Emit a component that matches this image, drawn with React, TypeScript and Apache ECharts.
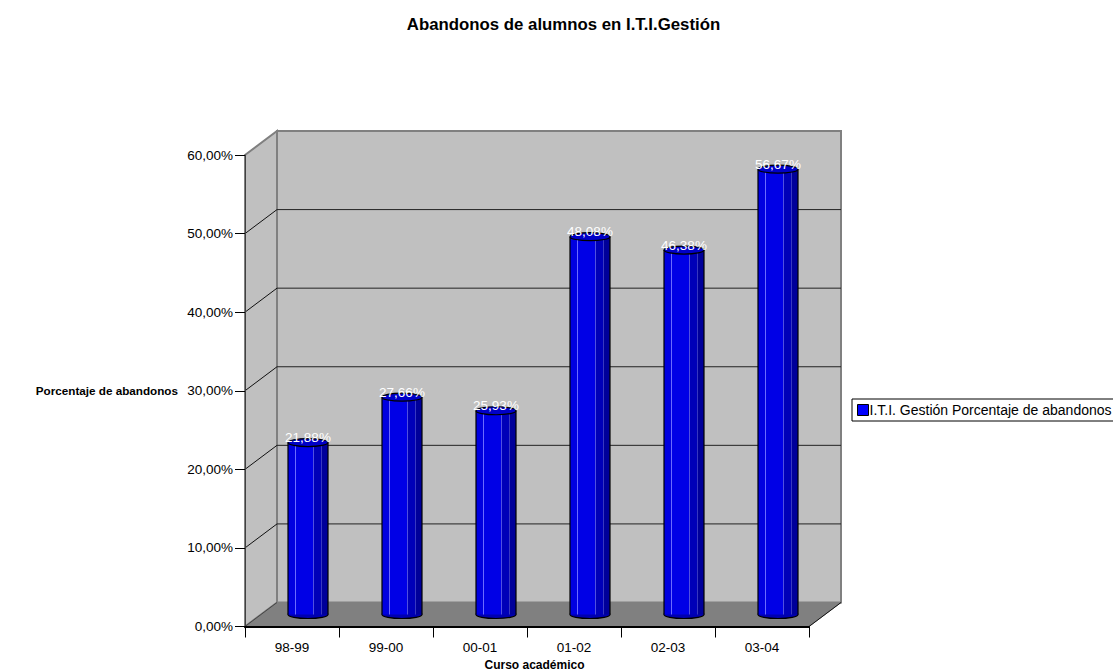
import React, { useEffect, useRef } from "react";
import * as echarts from "echarts";

const courses = ["98-99", "99-00", "00-01", "01-02", "02-03", "03-04"];
const dropoutRates = [21.88, 27.66, 25.93, 48.08, 46.38, 56.67];
const seriesName = "I.T.I. Gestión Porcentaje de abandonos";
const titleText = "Abandonos de alumnos en I.T.I.Gestión";
const yAxisTitle = "Porcentaje de abandonos";
const xAxisTitle = "Curso académico";

const FONT = '"Liberation Sans", Arial, sans-serif';
const DEPTH_X = 32;
const DEPTH_Y = 24;
const BAR_W = 40;

const fmt = (v: number) => v.toFixed(2).replace(".", ",") + "%";

function renderWalls(params: any, api: any) {
  const c = params.coordSys;
  const l = c.x, r = c.x + c.width, t = c.y, b = c.y + c.height;
  const dx = DEPTH_X, dy = DEPTH_Y;
  const wallStroke = { stroke: "#808080", lineWidth: 2 };
  const children: any[] = [
    { type: "polygon", shape: { points: [[l + dx, t - dy], [r + dx, t - dy], [r + dx, b - dy], [l + dx, b - dy]] }, style: { fill: "#c0c0c0", ...wallStroke } },
    { type: "polygon", shape: { points: [[l, t], [l + dx, t - dy], [l + dx, b - dy], [l, b]] }, style: { fill: "#c0c0c0", ...wallStroke } },
    { type: "polygon", shape: { points: [[l, b], [l + dx, b - dy], [r + dx, b - dy], [r, b]] }, style: { fill: "#808080", stroke: "#808080", lineWidth: 1 } },
  ];
  for (let v = 10; v <= 60; v += 10) {
    const y = api.coord([0, v])[1];
    children.push({ type: "line", shape: { x1: l, y1: y, x2: l + dx, y2: y - dy }, style: { stroke: v === 60 ? "#808080" : "#111", lineWidth: 1 } });
    if (v < 60) {
      children.push({ type: "line", shape: { x1: l + dx, y1: y - dy, x2: r + dx, y2: y - dy }, style: { stroke: "#222", lineWidth: 1 } });
    }
  }
  children.push({ type: "line", shape: { x1: l, y1: b, x2: l + dx, y2: b - dy }, style: { stroke: "#444", lineWidth: 1 } });
  children.push({ type: "line", shape: { x1: r, y1: b, x2: r + dx, y2: b - dy }, style: { stroke: "#111", lineWidth: 1 } });
  return { type: "group", children };
}

function renderBar(params: any, api: any) {
  const cat = api.value(0);
  const val = api.value(1);
  const top = api.coord([cat, val]);
  const base = api.coord([cat, 0]);
  const cx = top[0] + DEPTH_X / 2;
  const yTop = top[1] - DEPTH_Y / 2;
  const yBase = base[1] - DEPTH_Y / 2;
  const x0 = cx - BAR_W / 2;
  const h = yBase - yTop;
  const rect = (x: number, w: number, fill: string) => ({
    type: "rect",
    shape: { x, y: yTop, width: w, height: h },
    style: { fill },
  });
  return {
    type: "group",
    children: [
      { type: "ellipse", shape: { cx, cy: yBase, rx: BAR_W / 2, ry: 4 }, style: { fill: "#0000b0", stroke: "#000", lineWidth: 1.2 } },
      rect(x0, 7, "#0000e0"),
      rect(x0 + 7, 1, "#6a6aff"),
      rect(x0 + 8, 17, "#0000e6"),
      rect(x0 + 25, 1, "#5050e0"),
      rect(x0 + 26, 7, "#0000b8"),
      rect(x0 + 33, 1, "#3838c0"),
      rect(x0 + 34, 6, "#00009a"),
      { type: "line", shape: { x1: x0, y1: yTop, x2: x0, y2: yBase }, style: { stroke: "#000", lineWidth: 1.2 } },
      { type: "line", shape: { x1: x0 + BAR_W, y1: yTop, x2: x0 + BAR_W, y2: yBase }, style: { stroke: "#000", lineWidth: 1.2 } },
      { type: "ellipse", shape: { cx, cy: yTop, rx: BAR_W / 2, ry: 4 }, style: { fill: "#0000c8", stroke: "#000", lineWidth: 1.2 } },
      {
        type: "text",
        style: {
          text: fmt(val),
          x: cx,
          y: yTop - 5,
          align: "center",
          verticalAlign: "middle",
          fill: "#ffffff",
          font: `13.5px ${FONT}`,
        },
      },
    ],
  };
}

export default function App() {
  const ref = useRef<HTMLDivElement>(null);
  useEffect(() => {
    document.body.style.margin = "0";
    const chart = echarts.init(ref.current!, undefined, { renderer: "svg" });
    chart.setOption({
      animation: false,
      backgroundColor: "#ffffff",
      textStyle: { fontFamily: FONT },
      title: {
        text: titleText,
        left: 558.5,
        top: 11,
        textAlign: "center",
        textStyle: { fontFamily: FONT, fontSize: 16.8, fontWeight: "bold", color: "#000" },
      },
      grid: { left: 245, top: 155, width: 564, height: 471.5, outerBoundsMode: "none" },
      legend: {
        data: [seriesName],
        left: 852,
        top: 399,
        padding: [4, 2, 4, 5],
        itemWidth: 11,
        itemHeight: 11,
        icon: "rect",
        backgroundColor: "#fff",
        borderColor: "#000",
        borderWidth: 1,
        borderRadius: 0,
        itemStyle: { borderColor: "#000", borderWidth: 1 },
        textStyle: { fontFamily: FONT, fontSize: 14, color: "#000", padding: [0, 0, 0, -4] },
      },
      xAxis: {
        type: "category",
        data: courses,
        z: 3,
        axisLine: { lineStyle: { color: "#000", width: 2 } },
        axisTick: { show: true, alignWithLabel: false, length: 11, lineStyle: { color: "#000" } },
        axisLabel: { fontFamily: FONT, fontSize: 13.5, color: "#000", margin: 14 },
        name: xAxisTitle,
        nameLocation: "middle",
        nameGap: 31,
        nameTextStyle: { fontFamily: FONT, fontSize: 12, fontWeight: "bold", color: "#000", padding: [0, 0, 0, 15] },
      },
      yAxis: {
        type: "value",
        min: 0,
        max: 60,
        interval: 10,
        z: 3,
        splitLine: { show: false },
        axisLine: { show: true, lineStyle: { color: "#404040", width: 1 } },
        axisTick: { show: true, length: 10, lineStyle: { color: "#000" } },
        axisLabel: { fontFamily: FONT, fontSize: 13.5, color: "#000", margin: 12, formatter: (v: number) => fmt(v) },
        name: yAxisTitle,
        nameLocation: "middle",
        nameRotate: 0,
        nameGap: 67,
        nameTextStyle: { fontFamily: FONT, fontSize: 11.7, fontWeight: "bold", color: "#000" },
      },
      series: [
        {
          type: "custom",
          name: "walls",
          z: 1,
          silent: true,
          coordinateSystem: "cartesian2d",
          data: [[0, 0]],
          renderItem: renderWalls,
        },
        {
          type: "custom",
          name: seriesName,
          z: 4,
          coordinateSystem: "cartesian2d",
          itemStyle: { color: "#0000ff" },
          encode: { x: 0, y: 1 },
          data: dropoutRates.map((v, i) => [i, v]),
          renderItem: renderBar,
        },
      ],
    });
    return () => chart.dispose();
  }, []);
  return <div ref={ref} style={{ position: "fixed", left: 0, top: 0, width: 1113, height: 671 }} />;
}
